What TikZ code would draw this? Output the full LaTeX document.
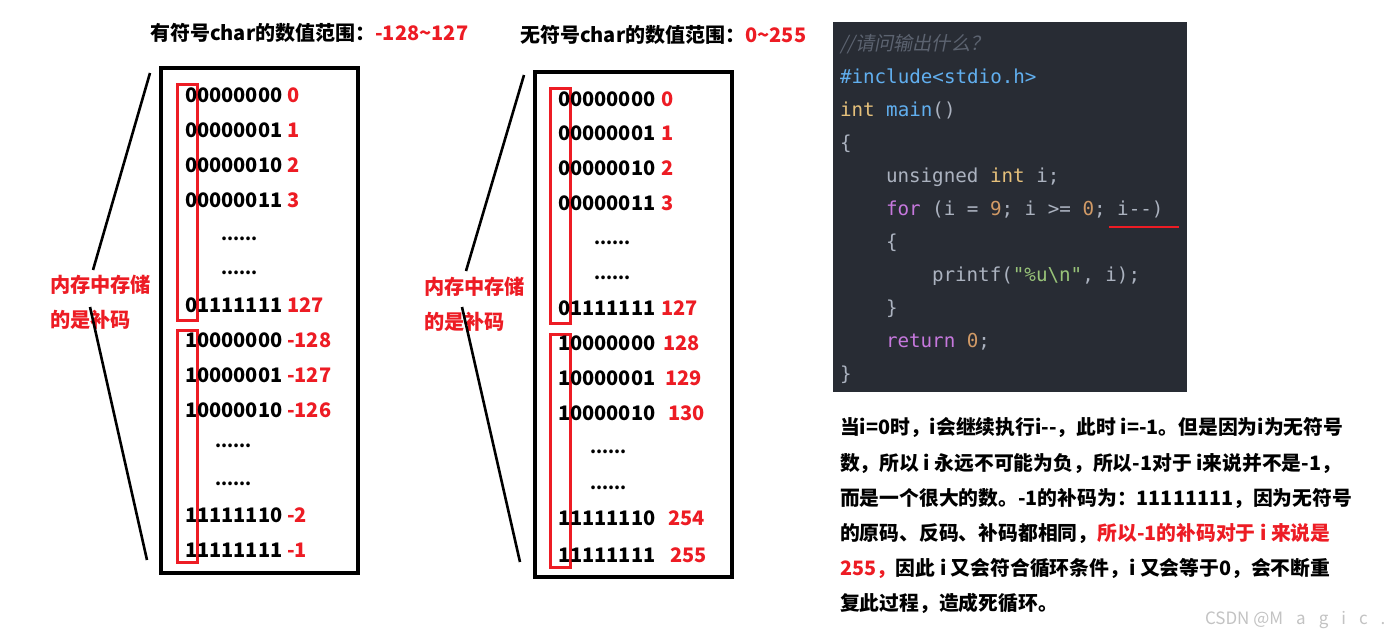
\documentclass[tikz,border=0pt]{standalone}
\usepackage{fontspec}
\newfontfamily\cjk{Noto Sans CJK SC}
\newfontfamily\cjkit{Noto Sans CJK SC}[FakeSlant=0.2]
\newfontfamily\mono{DejaVu Sans Mono}
\definecolor{redc}{RGB}{237,28,36}
\definecolor{codebg}{RGB}{40,44,52}
\definecolor{cgray}{RGB}{171,178,191}
\definecolor{ccomment}{RGB}{92,99,112}
\definecolor{cblue}{RGB}{97,175,239}
\definecolor{cyellow}{RGB}{229,192,123}
\definecolor{cpurple}{RGB}{198,120,221}
\definecolor{corange}{RGB}{209,154,102}
\definecolor{cgreen}{RGB}{152,195,121}
\definecolor{wm}{RGB}{195,195,195}
\newcommand{\wsp}{\hspace{6.5pt}}
\begin{document}
\begin{tikzpicture}[x=0.5pt,y=-0.5pt,
  every node/.style={inner sep=0pt,outer sep=0pt},
  bin/.style={anchor=west,font=\cjk\fontsize{10}{12}\bfseries\selectfont},
  num/.style={bin,text=redc},
  dots/.style={anchor=west,font=\cjk\fontsize{8.6}{10}\bfseries\selectfont},
  title/.style={anchor=west,font=\cjk\fontsize{10}{12}\bfseries\selectfont},
  lbl/.style={anchor=west,text=redc,font=\cjk\fontsize{10.1}{12}\bfseries\selectfont},
  frame/.style={draw=black,line width=1.7pt},
  redframe/.style={draw=redc,line width=1.5pt},
  pointer/.style={draw=black,line width=1.3pt},
  code/.style={anchor=base west,text=cgray,font=\mono\fontsize{9.6}{11}\selectfont},
  para/.style={anchor=base west,font=\cjk\fontsize{9.9}{11}\bfseries\selectfont}]
\useasboundingbox (0,0) rectangle (1397,638);
\fill[white] (0,0) rectangle (1397,638);

% ---------- left: signed char ----------
\node[title] (t1) at (150,33) {有符号char的数值范围：\textcolor{redc}{-128\textasciitilde127}};
\draw[frame] (161,68) rectangle (358,573);
\draw[redframe] (177,84) rectangle (197,320);
\draw[redframe] (177,330) rectangle (197,562);
\foreach \y/\b/\n [count=\i] in {95/00000000/0,130/00000001/1,165/00000010/2,200/00000011/3,305/01111111/127,340/10000000/-128,375/10000001/-127,410/10000010/-126,515/11111110/-2,550/11111111/-1}{
  \node[bin] (lb\i) at (185,\y) {\b};
  \node[num] (ln\i) at (287,\y) {\n};
}
\node[dots] (ld1) at (221,239) {......};
\node[dots] (ld2) at (221,273) {......};
\node[dots] (ld3) at (215,446) {......};
\node[dots] (ld4) at (215,484) {......};
\node[lbl] (lm1) at (50,285) {内存中存储};
\node[lbl] (lm2) at (50,320) {的是补码};
\coordinate (la1) at (150,73); \coordinate (la2) at (93,270);
\coordinate (la3) at (90,307); \coordinate (la4) at (147,560);
\draw[pointer] (la1) -- (la2);
\draw[pointer] (la3) -- (la4);

% ---------- middle: unsigned char ----------
\node[title] (t2) at (520,35) {无符号char的数值范围：\textcolor{redc}{0\textasciitilde255}};
\draw[frame] (535,72) rectangle (732,577);
\draw[redframe] (550,88) rectangle (570,323);
\draw[redframe] (550,334) rectangle (570,567);
\foreach \y/\b/\x/\n [count=\i] in {99/00000000/661/0,133/00000001/661/1,168/00000010/661/2,203/00000011/661/3,308/01111111/661/127,343/10000000/663/128,378/10000001/665/129,413/10000010/668/130,518/11111110/668/254,555/11111111/670/255}{
  \node[bin] (rb\i) at (558,\y) {\b};
  \node[num] (rn\i) at (\x,\y) {\n};
}
\node[dots] (rd1) at (594,243) {......};
\node[dots] (rd2) at (594,278) {......};
\node[dots] (rd3) at (590,452) {......};
\node[dots] (rd4) at (590,488) {......};
\node[lbl] (rm1) at (424,287) {内存中存储};
\node[lbl] (rm2) at (424,322) {的是补码};
\coordinate (ra1) at (524,75); \coordinate (ra2) at (466,271);
\coordinate (ra3) at (462,307); \coordinate (ra4) at (520,562);
\draw[pointer] (ra1) -- (ra2);
\draw[pointer] (ra3) -- (ra4);

% ---------- code block ----------
\fill[codebg] (833,22) rectangle (1187,392);
\node[code,text=ccomment] (c1) at (840,50) {{\cjkit //请问输出什么？}};
\node[code,text=cblue] (c2) at (840,83) {\#include<stdio.h>};
\node[code] (c3) at (840,116) {\textcolor{cyellow}{int} \textcolor{cblue}{main}()};
\node[code] (c4) at (840,149) {\{};
\node[code] (c5) at (886,182) {unsigned \textcolor{cyellow}{int} i;};
\node[code] (c6) at (886,215) {\textcolor{cpurple}{for} (i = \textcolor{corange}{9}; i >= \textcolor{corange}{0}; i-{}-)};
\node[code] (c7) at (886,248) {\{};
\node[code] (c8) at (932,281) {printf(\textcolor{cgreen}{"\%u\textbackslash n"}, i);};
\node[code] (c9) at (886,314) {\}};
\node[code] (c10) at (886,347) {\textcolor{cpurple}{return} \textcolor{corange}{0};};
\node[code] (c11) at (840,380) {\}};
\coordinate (u1) at (1109,227); \coordinate (u2) at (1179,227);
\draw[draw=redc,line width=1.3pt] (u1) -- (u2);

% ---------- explanation ----------
\node[para] (p1) at (840,434) {当i=0时，i会继续执行i-{}-，此时 i=-1。但是因为i为无符号};
\node[para] (p2) at (840,470) {数，所以 i 永远不可能为负，所以-1对于 i来说并不是-1，};
\node[para] (p3) at (840,505) {而是一个很大的数。-1的补码为：11111111，因为无符号};
\node[para] (p4) at (840,540) {的原码、反码、补码都相同，\textcolor{redc}{所以-1的补码对于 i 来说是}};
\node[para] (p5) at (840,575) {\textcolor{redc}{255，}因此 i 又会符合循环条件，i 又会等于0，会不断重};
\node[para] (p6) at (840,610) {复此过程，造成死循环。};
\node[anchor=base west,text=wm,font=\cjk\fontsize{8.5}{10}\selectfont] (wmk) at (1205,624) {CSDN @M\wsp a\wsp g\wsp i\wsp c\wsp .};
\end{tikzpicture}
\end{document}
